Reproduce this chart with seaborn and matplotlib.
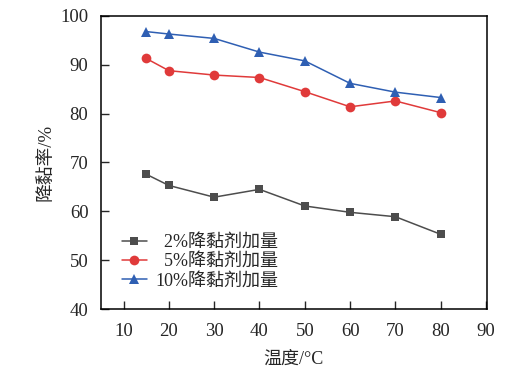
import numpy as np
import pandas as pd
import matplotlib
matplotlib.use("Agg")
import matplotlib.pyplot as plt
import seaborn as sns

# data
temps = [15, 20, 30, 40, 50, 60, 70, 80]
rate_2 = [67.6, 65.3, 62.9, 64.5, 61.1, 59.8, 58.9, 55.3]
rate_5 = [91.3, 88.8, 87.9, 87.4, 84.5, 81.4, 82.6, 80.2]
rate_10 = [96.8, 96.3, 95.4, 92.6, 90.8, 86.2, 84.4, 83.3]
series_names = ["  2%降黏剂加量", "  5%降黏剂加量", "10%降黏剂加量"]
x_ticks = [10, 20, 30, 40, 50, 60, 70, 80, 90]
y_ticks = [40, 50, 60, 70, 80, 90, 100]

df = pd.DataFrame({
    "temp": temps * 3,
    "rate": rate_2 + rate_5 + rate_10,
    "group": [series_names[0]] * 8 + [series_names[1]] * 8 + [series_names[2]] * 8,
})

sns.set_style("ticks")
plt.rcParams["font.family"] = ["Liberation Serif", "Noto Sans CJK SC"]

colors = ["#4d4d4d", "#e03a3a", "#2f5fb3"]
markers = ["s", "o", "^"]

fig = plt.figure(figsize=(5.31, 3.71), dpi=100)
ax = fig.add_axes([0.190, 0.167, 0.727, 0.790])

for name, col, mk in zip(series_names, colors, markers):
    sub = df[df["group"] == name]
    sns.lineplot(data=sub, x="temp", y="rate", color=col, marker=mk,
                 markersize=7 if mk != "s" else 6, markeredgewidth=0,
                 linewidth=1.1, label=name, ax=ax)

ax.set_xlim(5, 90.2)
ax.set_ylim(40, 100)
ax.set_xticks(x_ticks)
ax.set_yticks(y_ticks)
ax.tick_params(direction="in", length=6, width=1, labelsize=13.5,
               top=False, right=False)
ax.tick_params(axis="x", pad=10)
ax.tick_params(axis="y", pad=9)
for sp in ax.spines.values():
    sp.set_linewidth(1.1)
    sp.set_color("black")

ax.set_xlabel("温度/°C", fontsize=13, labelpad=8)
ax.set_ylabel("降黏率/%", fontsize=13.5, labelpad=4)

ax.legend(loc="lower left", bbox_to_anchor=(0.035, 0.043), frameon=False,
          fontsize=13, handlelength=1.4, handletextpad=0.45, labelspacing=0.12,
          borderaxespad=0)

fig.savefig("out.png", dpi=100)
